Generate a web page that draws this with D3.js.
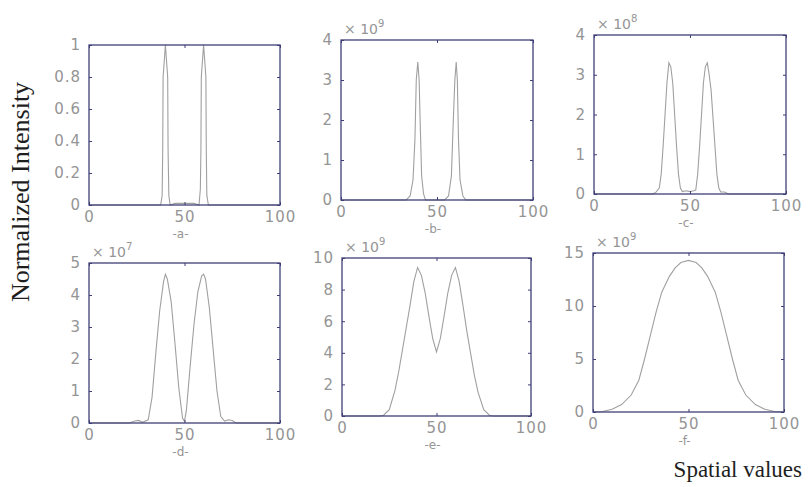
<!DOCTYPE html>
<html>
<head>
<meta charset="utf-8">
<script src="https://cdn.jsdelivr.net/npm/d3@7"></script>
<style>
  body { margin: 0; background: #fff; }
  .tick text { font-family: "DejaVu Sans", sans-serif; }
</style>
</head>
<body>
<script>
// ---- data ----
const panelNames = ["-a-", "-b-", "-c-", "-d-", "-e-", "-f-"];
const xTicks = [0, 50, 100];
const exponents = [null, 9, 8, 7, 9, 9];

const yTicksA = [0, 0.2, 0.4, 0.6, 0.8, 1];
const yTicksB = [0, 1, 2, 3, 4];
const yTicksC = [0, 1, 2, 3, 4];
const yTicksD = [0, 1, 2, 3, 4, 5];
const yTicksE = [0, 2, 4, 6, 8, 10];
const yTicksF = [0, 5, 10, 15];

// -a- two narrow spikes
const xA = [0, 37.5, 38.3, 38.6, 38.8, 40, 41.2, 41.4, 41.8, 42.5, 45, 50, 55, 57.6, 58.3, 58.6, 58.8, 60, 61.2, 61.4, 61.7, 62.5, 100];
const yA = [0, 0, 0.06, 0.35, 0.8, 1, 0.8, 0.35, 0.06, 0, 0.01, 0.01, 0.01, 0, 0.1, 0.35, 0.8, 1, 0.8, 0.35, 0.06, 0, 0];
// -b- (x 10^9)
const xB = [0, 34, 36, 37.5, 38.5, 39.2, 40, 40.7, 41.2, 42, 43, 44, 54, 56, 57.5, 58.5, 59.3, 60, 60.6, 61.2, 62, 63.5, 65, 100];
const yB = [0, 0, 0.1, 0.5, 1.5, 3.0, 3.45, 3.0, 2.0, 0.6, 0.15, 0, 0, 0.1, 0.6, 2.0, 3.0, 3.45, 3.0, 1.5, 0.5, 0.1, 0, 0];
// -c- (x 10^8)
const xC = [0, 30, 32, 34, 35, 36, 37, 38, 39, 40, 41, 42, 43, 44, 45, 46, 48, 50, 52, 53, 54, 55, 56, 57, 58, 59, 60, 61, 62, 63, 64, 65, 66, 68, 70, 100];
const yC = [0, 0, 0.03, 0.15, 0.5, 1.2, 2.0, 2.8, 3.3, 3.2, 2.8, 2.0, 1.2, 0.5, 0.15, 0.06, 0.08, 0.06, 0.08, 0.1, 0.5, 1.2, 2.0, 2.8, 3.2, 3.3, 3.0, 2.6, 1.9, 1.2, 0.5, 0.15, 0.05, 0.05, 0, 0];
// -d- (x 10^7)
const xD = [0, 21, 24, 26, 28, 31, 33, 35, 37, 39, 40, 41, 43, 45, 47, 49, 50, 51, 53, 55, 57, 59, 60, 61, 63, 65, 67, 69, 71, 73, 75, 77, 100];
const yD = [0, 0, 0.06, 0.08, 0.02, 0.1, 0.8, 2.2, 3.5, 4.4, 4.65, 4.5, 3.8, 2.5, 1.1, 0.15, 0.05, 0.4, 1.8, 3.1, 4.1, 4.6, 4.65, 4.5, 3.6, 2.3, 1.0, 0.2, 0.06, 0.1, 0.08, 0, 0];
// -e- (x 10^9)
const xE = [0, 20, 22, 25, 28, 30, 32, 34, 36, 38, 40, 42, 44, 46, 48, 50, 52, 54, 56, 58, 60, 62, 64, 66, 68, 70, 72, 75, 78, 80, 100];
const yE = [0, 0, 0.05, 0.4, 1.6, 2.8, 4.2, 5.6, 7.0, 8.5, 9.4, 8.9, 7.8, 6.3, 4.9, 4.05, 4.9, 6.3, 7.8, 8.9, 9.4, 8.5, 7.0, 5.4, 4.0, 2.6, 1.5, 0.4, 0.05, 0, 0];
// -f- (x 10^9)
const xF = [0, 5, 10, 15, 20, 24, 27, 30, 33, 36, 40, 43, 46, 50, 54, 57, 60, 64, 67, 70, 73, 76, 80, 85, 90, 95, 100];
const yF = [0, 0.05, 0.25, 0.7, 1.6, 3.0, 5.0, 7.2, 9.4, 11.3, 12.8, 13.6, 14.1, 14.3, 14.1, 13.6, 12.8, 11.3, 9.4, 7.2, 5.0, 3.0, 1.6, 0.7, 0.25, 0.05, 0];

const seriesX = [xA, xB, xC, xD, xE, xF];
const seriesY = [yA, yB, yC, yD, yE, yF];
const yTicks = [yTicksA, yTicksB, yTicksC, yTicksD, yTicksE, yTicksF];

// ---- layout (pixel boxes of each axes frame) ----
const width = 809, height = 487;
const boxes = [
  { x0: 89,  x1: 280, y0: 45,  y1: 205 },
  { x0: 341, x1: 533, y0: 40,  y1: 200 },
  { x0: 594, x1: 786, y0: 35,  y1: 194 },
  { x0: 89,  x1: 280, y0: 263, y1: 423 },
  { x0: 342, x1: 531, y0: 258, y1: 416 },
  { x0: 593, x1: 784, y0: 253, y1: 412 }
];

const frameColor = "#3f3f78";
const labelColor = "#959595";
const lineColor = "#a0a0a0";

let svg = d3.select("body")
            .append("svg")
            .attr("width", width)
            .attr("height", height);

svg.append("rect").attr("width", width).attr("height", height).attr("fill", "#fff");

boxes.forEach(function (b, i) {
    let escalaX = d3.scaleLinear().domain([0, 100]).range([b.x0, b.x1]);
    let ticksY = yTicks[i];
    let escalaY = d3.scaleLinear()
                    .domain([0, ticksY[ticksY.length - 1]])
                    .range([b.y1, b.y0]);
    let fmt = d3.format("~g");

    let g = svg.append("g");

    // curve
    let puntos = seriesX[i].map((x, k) => [x, seriesY[i][k]]);
    g.append("path")
     .datum(puntos)
     .attr("fill", "none")
     .attr("stroke", lineColor)
     .attr("stroke-width", 1.1)
     .attr("d", d3.line().x(d => escalaX(d[0])).y(d => escalaY(d[1])));

    // axes, MATLAB style: ticks pointing inside on all four sides
    let styleAxis = function (sel) {
        sel.select(".domain").remove();
        sel.selectAll(".tick line").attr("stroke", frameColor);
        sel.selectAll(".tick text").attr("fill", labelColor).style("font-size", "15px").style("letter-spacing", "1px");
    };

    g.append("g")
     .attr("transform", "translate(0," + b.y1 + ")")
     .call(d3.axisBottom(escalaX).tickValues(xTicks).tickSizeInner(-3).tickSizeOuter(0).tickPadding(6))
     .call(styleAxis);
    g.append("g")
     .attr("transform", "translate(0," + b.y0 + ")")
     .call(d3.axisTop(escalaX).tickValues(xTicks).tickSizeInner(-3).tickSizeOuter(0).tickFormat(""))
     .call(styleAxis);
    g.append("g")
     .attr("transform", "translate(" + b.x0 + ",0)")
     .call(d3.axisLeft(escalaY).tickValues(ticksY).tickFormat(fmt).tickSizeInner(-3).tickSizeOuter(0).tickPadding(8))
     .call(styleAxis);
    g.append("g")
     .attr("transform", "translate(" + b.x1 + ",0)")
     .call(d3.axisRight(escalaY).tickValues(ticksY).tickSizeInner(-3).tickSizeOuter(0).tickFormat(""))
     .call(styleAxis);

    // frame
    g.append("rect")
     .attr("x", b.x0).attr("y", b.y0)
     .attr("width", b.x1 - b.x0).attr("height", b.y1 - b.y0)
     .attr("fill", "none")
     .attr("stroke", frameColor)
     .attr("stroke-width", 1.3);

    // exponent label  "x 10^n"
    if (exponents[i] !== null) {
        let t = g.append("text")
                 .attr("x", b.x0 + 3)
                 .attr("y", b.y0 - 6)
                 .attr("fill", labelColor)
                 .style("font-family", "DejaVu Sans, sans-serif")
                 .style("font-size", "14px");
        t.append("tspan").text("× 10");
        t.append("tspan").attr("dy", -7).style("font-size", "10px").text(exponents[i]);
    }

    // panel name
    g.append("text")
     .attr("x", (b.x0 + b.x1) / 2 - 4)
     .attr("y", b.y1 + 33)
     .attr("text-anchor", "middle")
     .attr("fill", labelColor)
     .style("font-family", "DejaVu Sans, sans-serif")
     .style("font-size", "12px")
     .text(panelNames[i]);
});

// axis titles
svg.append("text")
   .attr("transform", "translate(29,192) rotate(-90)")
   .attr("text-anchor", "middle")
   .attr("fill", "#1e1e1e")
   .style("font-family", "Liberation Serif, serif")
   .style("font-size", "26px")
   .text("Normalized Intensity");

svg.append("text")
   .attr("x", 802)
   .attr("y", 477)
   .attr("text-anchor", "end")
   .attr("fill", "#1e1e1e")
   .style("font-family", "Liberation Serif, serif")
   .style("font-size", "23px")
   .text("Spatial values");
</script>
</body>
</html>
